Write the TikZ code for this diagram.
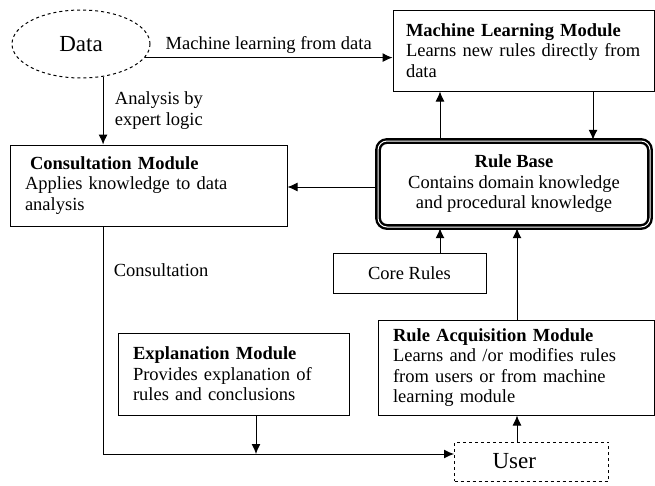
\documentclass[tikz,border=0pt]{standalone}
\usepackage{fontspec}
\setmainfont{Liberation Serif}
\usetikzlibrary{arrows.meta,shapes.geometric}

\begin{document}
\begin{tikzpicture}[x=1pt,y=-1pt,>={Latex[length=10pt,width=9pt]},line width=1pt,
    font=\fontsize{18.5}{20.5}\selectfont,
    modbox/.style={draw,line width=1pt,inner ysep=0pt,inner xsep=15pt,align=left},
    rulebox/.style={draw,rounded corners=9pt,line width=2.4pt,double=white,
        double distance=1pt,align=center,inner sep=0pt},
    bigtext/.style={font=\fontsize{23}{26}\selectfont}]
    \useasboundingbox (0,0) rectangle (655,485);

    % data source
    \node[draw,dashed,ellipse,bigtext,minimum width=138,minimum height=68,inner sep=0pt]
        (data) at (81,44) {Data};

    % modules
    \node[modbox,inner xsep=13pt,text width=235,minimum height=81] (ml) at (523.5,50.5)
        {\textbf{Machine Learning Module}\\\mbox{Learns new rules directly from}\\data};
    \node[modbox,text width=247,minimum height=81] (cons) at (148.5,185.5)
        {\hspace*{5pt}\textbf{Consultation Module}\\Applies knowledge to data\\analysis};
    \node[rulebox,minimum width=272,minimum height=86] (rb) at (514,184)
        {\textbf{Rule Base}\\Contains domain knowledge\\and procedural knowledge};
    \node[draw,line width=1pt,minimum width=153,minimum height=40,inner sep=0pt]
        (core) at (409.5,273) {Core Rules};
    \node[modbox,text width=201,minimum height=82] (expl) at (233.5,374)
        {\textbf{Explanation Module}\\Provides explanation of\\rules and conclusions};
    \node[modbox,text width=246,minimum height=95] (acq) at (516,367.5)
        {\textbf{Rule Acquisition Module}\\Learns and /or modifies rules\\from users or from machine\\learning module};
    \node[draw,dashed,bigtext,line width=1pt,inner xsep=38pt,text width=78,align=left,
        minimum height=39,inner ysep=0pt] (user) at (531.5,461.5) {User};

    % flow
    \coordinate (bend) at (103,454);
    \coordinate (join) at (256,454);
    \draw[->] (data.-12) -- (data.-12 -| ml.west)
        node[midway,above] {Machine learning from data};
    \draw[->] (data.-56) -- (data.-56 |- cons.north)
        node[midway,right,xshift=8pt,align=left] {Analysis by\\expert logic};
    \draw[->] (rb.north -| 440,0) -- (ml.south -| 440,0);
    \draw[->] (ml.south -| 593,0) -- (rb.north -| 593,0);
    \draw[->] (rb.west |- 0,187) -- (cons.east |- 0,187);
    \draw[->] (core.north -| 440,0) -- (rb.south -| 440,0);
    \draw[->] (acq.north -| 517,0) -- (rb.south -| 517,0);
    \draw[->] (user.north -| 517,0) -- (acq.south -| 517,0);
    \draw[->] (expl.south -| join) -- (join);
    \draw[->] (cons.south -| bend) -- (bend) -- (bend -| user.west);
    \node[right] (consl) at (110,270) {Consultation};
\end{tikzpicture}
\end{document}
